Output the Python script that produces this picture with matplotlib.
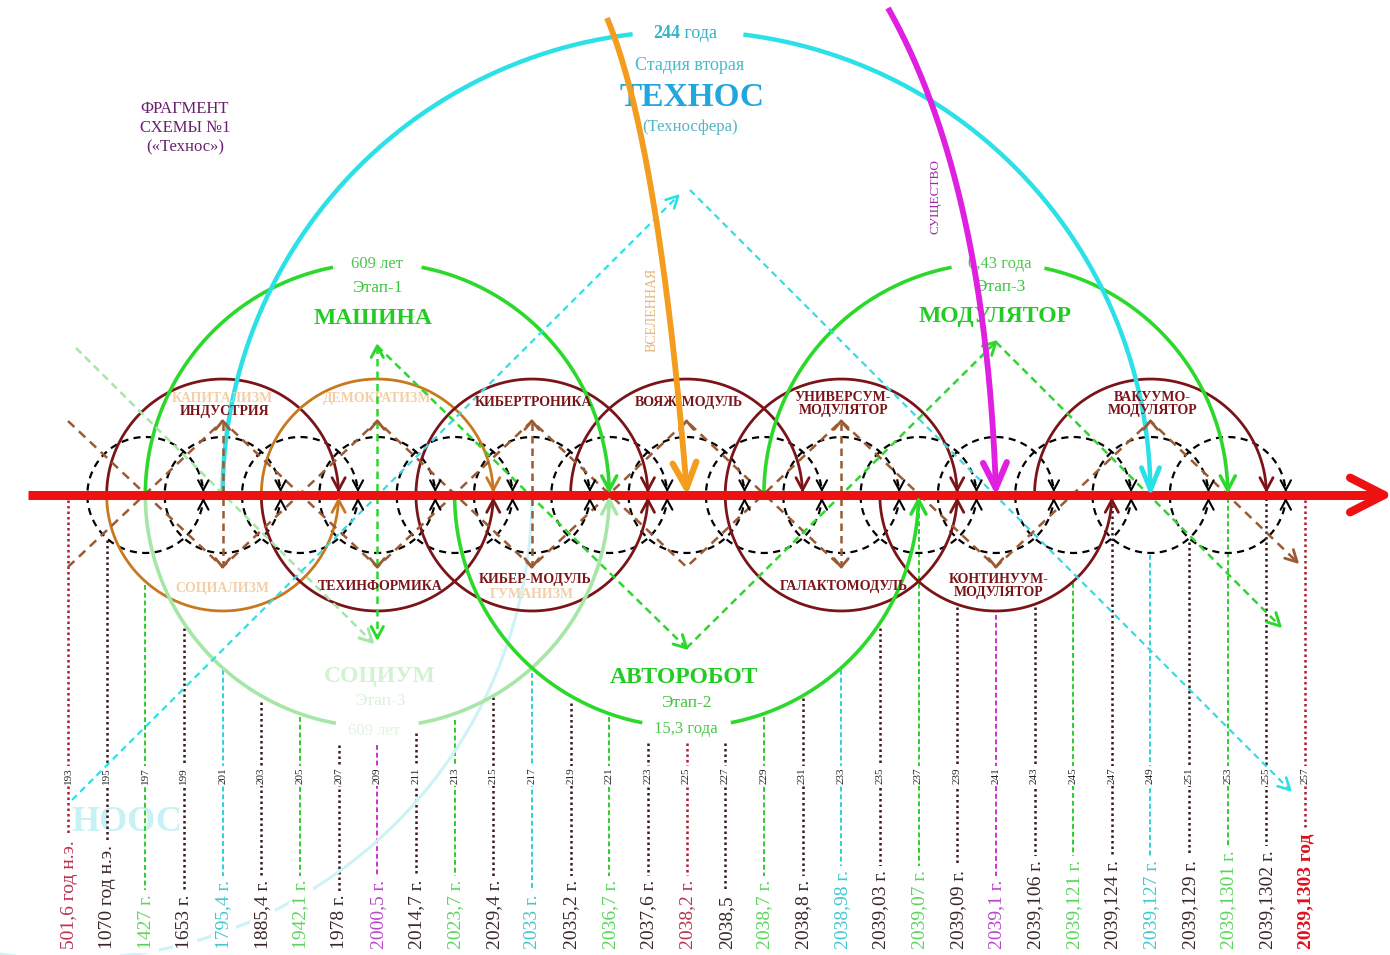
import numpy as np
import matplotlib.pyplot as plt

plt.rcParams['font.family'] = ['Liberation Serif', 'DejaVu Serif']

# %% data: dates along the time axis, page refs and the kind of each mark
dates = ['501,6 год н.э.', '1070 год н.э.', '1427 г.', '1653 г.', '1795,4 г.', '1885,4 г.',
         '1942,1 г.', '1978 г.', '2000,5 г.', '2014,7 г.', '2023,7 г.', '2029,4 г.', '2033 г.',
         '2035,2 г.', '2036,7 г.', '2037,6 г.', '2038,2 г.', '2038,5', '2038,7 г.', '2038,8 г.',
         '2038,98 г.', '2039,03 г.', '2039,07 г.', '2039,09 г.', '2039,1 г.', '2039,106 г.',
         '2039,121 г.', '2039,124 г.', '2039,127 г.', '2039,129 г.', '2039,1301 г.',
         '2039,1302 г.', '2039,1303 год']
pages = ['193', '195', '197', '199', '201', '203', '205', '207', '209', '211', '213', '215',
         '217', '219', '221', '223', '225', '227', '229', '231', '233', '235', '237', '239',
         '241', '243', '245', '247', '249', '251', '253', '255', '257']
kinds = ['red', 'dark', 'green', 'dark', 'cyan', 'dark', 'green', 'dark', 'magenta', 'dark',
         'green', 'dark', 'cyan', 'dark', 'green', 'dark', 'red', 'dark', 'green', 'dark',
         'cyan', 'dark', 'green', 'dark', 'magenta', 'dark', 'green', 'dark', 'cyan', 'dark',
         'green', 'dark', 'red']

# brown rings: centre index, upper labels, lower labels
ring_centres = [4, 8, 12, 16, 20, 24, 28]
ring_top_label = ['ИНДУСТРИЯ', '', 'КИБЕРТРОНИКА', 'ВОЯЖ-МОДУЛЬ', 'УНИВЕРСУМ-\nМОДУЛЯТОР', '', 'ВАКУУМО-\nМОДУЛЯТОР']
ring_bot_label = ['', 'ТЕХИНФОРМИКА', 'КИБЕР-МОДУЛЬ', '', 'ГАЛАКТОМОДУЛЬ', 'КОНТИНУУМ-\nМОДУЛЯТОР', '']
socium_top = ['КАПИТАЛИЗМ', 'ДЕМОКРАТИЗМ', '', '', '', '', '']
socium_bot = ['СОЦИАЛИЗМ', '', 'ГУМАНИЗМ', '', '', '', '']

# where each dotted date line comes out from under the rings
line_from = [500, 540, 585, 628, 670, 702, 717, 745, 745, 733, 720, 697, 673, 703, 717, 743,
             743, 743, 717, 698, 670, 628, 498, 607, 615, 607, 583, 505, 555, 542, 498, 498, 500]

# %% colours
BROWN = '#7a1418'
ORANGE = '#c8781e'
TAN = '#f3cfa8'
ZIG = '#9b5a33'
GREEN = '#2cd82c'
LGREEN = '#a6e6a6'
CYAN = '#2ce0e8'
LCYAN = '#cdf3f6'
MAGENTA = '#e020e0'
RED = '#ee1111'
line_col = {'red': '#b01c2e', 'dark': '#3a1a1a', 'green': '#2ccc2c', 'cyan': '#30d0d8', 'magenta': '#d030d0'}
label_col = {'red': '#b8324e', 'dark': '#3a2626', 'green': '#5cd45c', 'cyan': '#40c8d0', 'magenta': '#b848c8'}

fig = plt.figure(figsize=(13.9, 9.55), dpi=100)
ax = fig.add_axes([0, 0, 1, 1])
ax.set_xlim(0, 1390)
ax.set_ylim(955, 0)
ax.axis('off')

Y0 = 495
x0, step = 68, 38.66


def X(i):
    return x0 + step * i


def arc(cx, r, side, color, lw, ls='-', gap=None, z=3):
    # side=1 upper half, side=-1 lower half; gap in degrees (0 = right end)
    t = np.linspace(0, 180, 500)
    x = cx + r * np.cos(np.radians(t))
    y = Y0 - side * r * np.sin(np.radians(t))
    if gap:
        x = np.where((t > gap[0]) & (t < gap[1]), np.nan, x)
    ax.plot(x, y, color=color, lw=lw, ls=ls, zorder=z, solid_capstyle='butt')


def head(xt, yt, ux, uy, size, color, lw, spread=28, z=6):
    n = np.hypot(ux, uy)
    ux, uy = ux / n, uy / n
    for s in (1, -1):
        a = np.radians(spread * s)
        bx = -(ux * np.cos(a) - uy * np.sin(a))
        by = -(ux * np.sin(a) + uy * np.cos(a))
        ax.plot([xt, xt + size * bx], [yt, yt + size * by], color=color, lw=lw,
                zorder=z, solid_capstyle='round')


def dashed(pts, color, lw, dash, z=4, tip=True, size=12):
    pts = np.array(pts, dtype=float)
    ax.plot(pts[:, 0], pts[:, 1], color=color, lw=lw, ls=(0, dash), zorder=z)
    if tip:
        d = pts[-1] - pts[-2]
        head(pts[-1][0], pts[-1][1], d[0], d[1], size, color, lw + 0.3, z=z)


# %% date lines and labels
for i, (d, p, k) in enumerate(zip(dates, pages, kinds)):
    x = X(i)
    if k in ('dark', 'red'):
        ax.plot([x, x], [line_from[i], 945], color=line_col[k], lw=1.8, ls=(0, (1, 1.2)), zorder=1)
    else:
        ax.plot([x, x], [line_from[i], 945], color=line_col[k], lw=1.4, ls=(0, (2.5, 1.5)), zorder=1)
    ax.text(x, 776, p, rotation=90, ha='center', va='center', fontsize=8, color='#222222',
            zorder=2, bbox=dict(boxstyle='square,pad=0.15', fc='white', ec='none'))
    last = i == len(dates) - 1
    ax.text(x + 1, 949, d, rotation=90, ha='center', va='bottom', fontsize=14,
            color='#e0101c' if last else label_col[k], fontweight='bold' if last else 'normal',
            zorder=2, bbox=dict(boxstyle='square,pad=0.2', fc='white', ec='none'))

# %% small dashed circles on the axis
rs = 1.5 * step
for i in range(2, 31, 2):
    c = X(i)
    t = np.radians(np.linspace(0, 360, 400))
    ax.plot(c + rs * np.cos(t), Y0 + rs * np.sin(t), color='black', lw=1.6,
            ls=(0, (3.2, 2.4)), zorder=3)
    head(c + rs, Y0 - 5, 0, 1, 11, 'black', 1.5)
    head(c + rs, Y0 + 5, 0, -1, 11, 'black', 1.5)

# %% brown rings (техно) with social halves in orange
rb = 3 * step
top_col = [BROWN, ORANGE, BROWN, BROWN, BROWN, None, BROWN]
bot_col = [ORANGE, BROWN, BROWN, None, BROWN, BROWN, None]
for j, ci in enumerate(ring_centres):
    c = X(ci)
    if top_col[j]:
        arc(c, rb, 1, top_col[j], 2.0)
        head(c + rb, Y0 - 5, 0, 1, 14, top_col[j], 2.0)
    if bot_col[j]:
        arc(c, rb, -1, bot_col[j], 2.0)
        head(c + rb, Y0 + 5, 0, -1, 14, bot_col[j], 2.0)
    if socium_top[j]:
        ax.text(c, 398, socium_top[j], ha='center', va='center', fontsize=10, fontweight='bold', color=TAN, zorder=4)
    if socium_bot[j]:
        yb = 594 if ring_bot_label[j] else 588
        ax.text(c, yb, socium_bot[j], ha='center', va='center', fontsize=10, fontweight='bold', color=TAN, zorder=4)
    if ring_top_label[j]:
        yt = 404 if '\n' in ring_top_label[j] else (411 if socium_top[j] else 402)
        ax.text(c + 2, yt, ring_top_label[j], ha='center', va='center', fontsize=10, fontweight='bold',
                color=BROWN, linespacing=1.0, zorder=7)
    if ring_bot_label[j]:
        yb = 586 if '\n' in ring_bot_label[j] else (579 if socium_bot[j] else 586)
        ax.text(c + 3, yb, ring_bot_label[j], ha='center', va='center', fontsize=10, fontweight='bold',
                color=BROWN, linespacing=1.0, zorder=7)

# %% brown dashed zigzags with the vertical double arrows
top_y, bot_y = 421, 567
zig1 = [(X(0), top_y), (X(4), bot_y), (X(8), top_y), (X(12), bot_y), (X(16), top_y), (X(20), bot_y)]
zig2 = [(X(0), bot_y), (X(4), top_y), (X(8), bot_y), (X(12), top_y), (X(16), bot_y),
        (X(20), top_y), (X(24), bot_y), (X(28), top_y), (X(32) - 8, bot_y - 5)]
for zz in (zig1, zig2):
    p = np.array(zz)
    ax.plot(p[:, 0], p[:, 1], color=ZIG, lw=1.8, ls=(0, (3.5, 2.5)), zorder=4)
for (px, py) in zig1[1:] + zig2[1:-1]:
    if abs(px - X(16)) < 1 and py == bot_y:
        continue
    head(px, py, 0, 1 if py == bot_y else -1, 11, ZIG, 2.0, spread=40)
head(zig2[-1][0], zig2[-1][1], 1, 1, 13, ZIG, 2.0)
for ci in (4, 12, 20):
    ax.plot([X(ci), X(ci)], [top_y + 2, bot_y - 2], color=ZIG, lw=1.8, ls=(0, (3, 2)), zorder=4)

# %% green stage arcs
rg = 6 * step
arc(X(8), rg, 1, GREEN, 2.6, gap=(79, 101))
head(X(14), Y0 - 5, 0, 1, 16, GREEN, 2.5)
arc(X(8), rg, -1, LGREEN, 2.6, gap=(80, 100))
head(X(14), Y0 + 5, 0, -1, 16, LGREEN, 2.5)
arc(X(16), rg, -1, GREEN, 2.6, gap=(79, 101))
head(X(22), Y0 + 5, 0, -1, 16, GREEN, 2.5)
arc(X(24), rg, 1, GREEN, 2.6, gap=(78, 101))
head(X(30), Y0 - 5, 0, 1, 16, GREEN, 2.5)

# %% cyan arcs: ТЕХНОС on top, faint НООС below
rc = 12 * step
arc(X(16), rc, 1, CYAN, 3.2, gap=(83, 96.5), z=3)
head(X(28), Y0 - 5, 0, 1, 24, CYAN, 3.5, spread=22)
arc(X(0), rc, -1, LCYAN, 2.2, z=1.5)

# %% green and cyan dashed diagonals
dashed([(X(8), 346), (X(8), 638)], GREEN, 1.8, (3, 2), size=13)
head(X(8), 346, 0, -1, 13, GREEN, 2.1)
dashed([(X(8), 346), (X(16), 648)], GREEN, 1.8, (3, 2), size=14)
dashed([(X(16), 648), (X(24), 342)], GREEN, 1.8, (3, 2), size=14)
dashed([(X(24), 342), (1280, 626)], GREEN, 1.8, (3, 2), size=14)
dashed([(76, 348), (X(8) - 5, 642)], LGREEN, 1.8, (3, 2), size=14)
dashed([(72, 800), (678, 196)], CYAN, 1.6, (3, 2.2), size=13)
dashed([(690, 190), (1290, 790)], CYAN, 1.6, (3, 2.2), size=13)

# %% main time axis
ax.plot([28, 1376], [Y0, Y0], color=RED, lw=6.5, solid_capstyle='butt', zorder=5)
head(1384, Y0, 1, 0, 38, RED, 6, spread=27)

# %% thick incoming arrows: Вселенная and Существо
tt = np.linspace(0, 1, 200)[:, None]
for p0, p1, p2, col, in [((607, 18), (658, 140), (X(16), 488), '#f39c1e'),
                         ((888, 8), (985, 180), (X(24), 488), MAGENTA)]:
    p0, p1, p2 = np.array(p0), np.array(p1), np.array(p2)
    b = (1 - tt) ** 2 * p0 + 2 * tt * (1 - tt) * p1 + tt ** 2 * p2
    ax.plot(b[:, 0], b[:, 1], color=col, lw=4.2, zorder=7, solid_capstyle='butt')
    d = p2 - p1
    head(p2[0], p2[1], d[0], d[1], 28, col, 4.5, spread=25, z=7)
ax.text(652, 310, 'ВСЕЛЕННАЯ', rotation=90, ha='center', va='center', fontsize=10, color='#e2b47c', zorder=4)
ax.text(935, 197, 'СУЩЕСТВО', rotation=90, ha='center', va='center', fontsize=9.5, color='#a02aa8', zorder=4)

# %% stage titles
ax.text(185, 128, 'ФРАГМЕНТ\nСХЕМЫ №1\n(«Технос»)', ha='center', va='center', fontsize=12,
        color='#6a2070', linespacing=1.25)
ax.text(680, 33, '244', ha='right', va='center', fontsize=13, fontweight='bold', color='#36b4c4')
ax.text(680, 33, ' года', ha='left', va='center', fontsize=13, color='#36b4c4')
ax.text(690, 66, 'Стадия вторая', ha='center', va='center', fontsize=13, color='#44bccc')
ax.text(692, 97, 'ТЕХНОС', ha='center', va='center', fontsize=24, fontweight='bold', color='#22a6de')
ax.text(690, 127, '(Техносфера)', ha='center', va='center', fontsize=12, color='#55b4c4')

ax.text(377, 264, '609 лет', ha='center', va='center', fontsize=12, color='#4cc84c')
ax.text(377, 288, 'Этап-1', ha='center', va='center', fontsize=12.5, color='#3cc43c')
ax.text(373, 318, 'МАШИНА', ha='center', va='center', fontsize=17, fontweight='bold', color='#22cc22')

ax.text(1000, 264, '0,43 года', ha='center', va='center', fontsize=12, color='#4cc84c')
ax.text(1000, 287, 'Этап-3', ha='center', va='center', fontsize=12.5, color='#3cc43c')
ax.text(995, 316, 'МОДУЛЯТОР', ha='center', va='center', fontsize=17, fontweight='bold', color='#22cc22')

ax.text(684, 677, 'АВТОРОБОТ', ha='center', va='center', fontsize=17, fontweight='bold', color='#22cc22')
ax.text(686, 703, 'Этап-2', ha='center', va='center', fontsize=12.5, color='#3cc43c')
ax.text(686, 729, '15,3 года', ha='center', va='center', fontsize=12, color='#4cc84c')

ax.text(380, 676, 'СОЦИУМ', ha='center', va='center', fontsize=17, fontweight='bold', color='#d2f2d2', zorder=2)
ax.text(380, 701, 'Этап-3', ha='center', va='center', fontsize=12.5, color='#d8f2d8', zorder=2)
ax.text(374, 731, '609 лет', ha='center', va='center', fontsize=12, color='#e0f4e0', zorder=2)

ax.text(127, 822, 'НООС', ha='center', va='center', fontsize=26, fontweight='bold', color='#c6f2f6', zorder=0)

fig.savefig('out.png', dpi=100, facecolor='white')
